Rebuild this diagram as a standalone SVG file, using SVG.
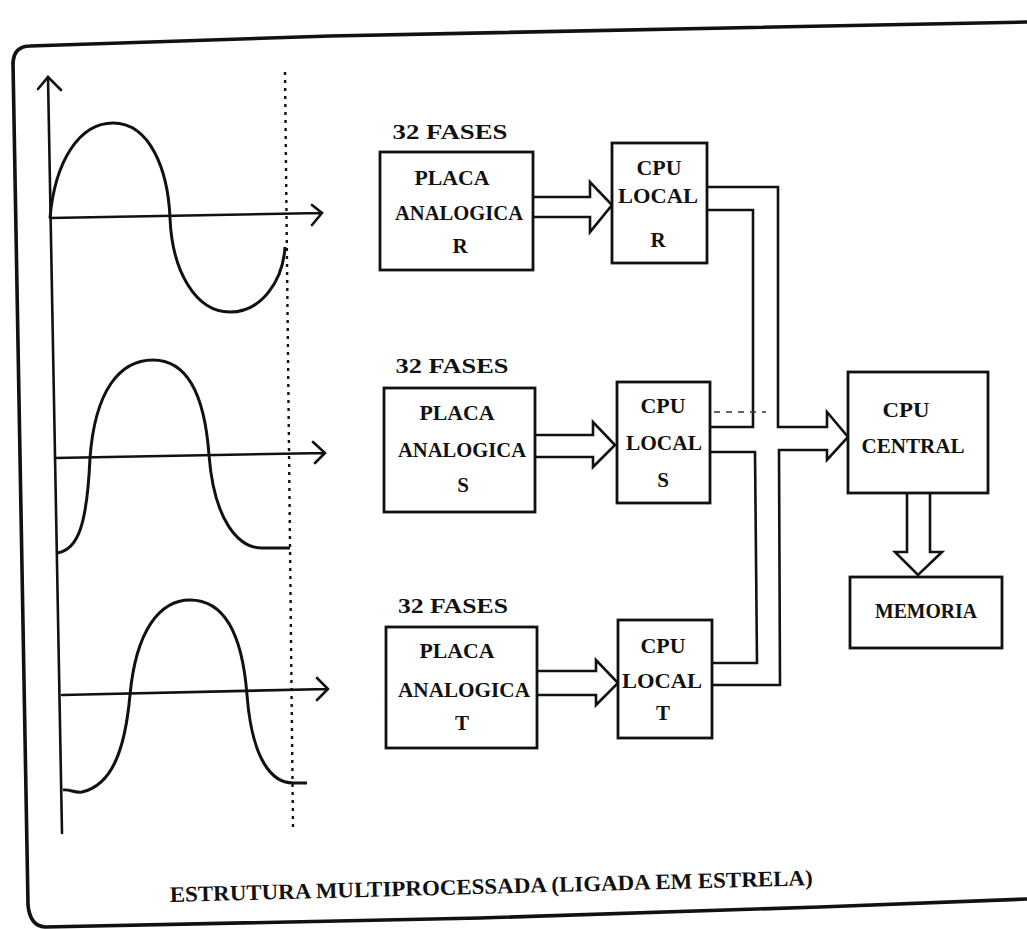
<svg xmlns="http://www.w3.org/2000/svg" width="1027" height="929" viewBox="0 0 1027 929">
<style>
.ln{fill:none;stroke:#111;stroke-width:2.6;stroke-linejoin:miter;stroke-linecap:round}
.box{fill:#fff;stroke:#111;stroke-width:2.8}
.wave{fill:none;stroke:#111;stroke-width:3}
.frame{fill:none;stroke:#111;stroke-width:3.6;stroke-linecap:round}
.dot{fill:none;stroke:#111;stroke-width:2.4;stroke-dasharray:3 5}
.t{font-family:"Liberation Serif","Times New Roman",serif;font-weight:bold;font-size:21px;fill:#111;text-anchor:middle}
.cap{font-family:"Liberation Serif","Times New Roman",serif;font-weight:bold;font-size:22px;fill:#111}
</style>
<rect width="1027" height="929" fill="#fff"/>
<g id="frame">
<path class="frame" d="M13,63 Q14,46 30,46 L330,36 L1027,22"/>
<path class="frame" d="M13,63 L28,905 Q30,926 45,927 L480,918 L820,907 L1027,899"/>
</g>
<g id="waveforms">
<path class="ln" d="M48,77 L62,833"/>
<path class="ln" d="M38,89 L48,77 L61,90"/>
<path class="dot" d="M285,72 L293,828"/>
<path class="ln" d="M50,218 L322,213 M312,205 L322,213 L312,225"/>
<path class="wave" d="M50,218 C55,160 80,123 113,123 C150,123 168,170 170,218 C172,270 195,312 230,312 C262,312 283,280 285,247"/>
<path class="ln" d="M55,458 L325,453 M313,442 L325,453 L315,463"/>
<path class="wave" d="M57,553 C78,550 87,525 90,458 C95,390 120,360 153,360 C190,360 205,400 209,455 C214,520 238,548 262,548 L290,548"/>
<path class="ln" d="M62,695 L328,689 M317,678 L328,689 L317,700"/>
<path class="wave" d="M63,790 C70,789 74,793 82,792 C112,785 125,750 130,695 C136,630 160,600 190,600 C222,600 242,630 247,695 C252,760 272,783 293,783 L307,783"/>
</g>
<g id="connectors">
<path class="ln" d="M533,197 L590,197 L590,182 L612,205 L590,232 L590,217 L533,217"/>
<path class="ln" d="M535,435 L593,435 L593,422 L615,445 L593,467 L593,457 L535,457"/>
<path class="ln" d="M537,671 L596,671 L596,660 L618,683 L596,705 L596,695 L537,695"/>
<path class="ln" d="M707,187 L778,187 L778,427 L827,427 L827,412 L848,437 L827,460 L827,450 L779,450 L780,685 L712,685"/>
<path class="ln" d="M707,210 L753,210 L753,427 L710,427"/>
<path class="ln" d="M710,452 L755,452 L757,663 L712,663"/>
<path class="ln" d="M907,493 L907,552 L895,552 L918,575 L942,552 L930,552 L930,493"/>
<path d="M714,412 L766,412" fill="none" stroke="#333" stroke-width="1.5" stroke-dasharray="6 6"/>
</g>
<g id="placa-r">
<text class="t" x="450" y="139" textLength="115" lengthAdjust="spacingAndGlyphs">32 FASES</text>
<rect class="box" x="380" y="152" width="153" height="118"/>
<text class="t" x="452" y="185" textLength="75" lengthAdjust="spacingAndGlyphs">PLACA</text>
<text class="t" x="459" y="220" textLength="128" lengthAdjust="spacingAndGlyphs">ANALOGICA</text>
<text class="t" x="460" y="253">R</text>
</g>
<g id="placa-s">
<text class="t" x="452" y="373" textLength="113" lengthAdjust="spacingAndGlyphs">32 FASES</text>
<rect class="box" x="384" y="388" width="151" height="124"/>
<text class="t" x="457" y="420" textLength="75" lengthAdjust="spacingAndGlyphs">PLACA</text>
<text class="t" x="462" y="457" textLength="128" lengthAdjust="spacingAndGlyphs">ANALOGICA</text>
<text class="t" x="463" y="492">S</text>
</g>
<g id="placa-t">
<text class="t" x="453" y="613" textLength="110" lengthAdjust="spacingAndGlyphs">32 FASES</text>
<rect class="box" x="386" y="627" width="151" height="121"/>
<text class="t" x="457" y="658" textLength="75" lengthAdjust="spacingAndGlyphs">PLACA</text>
<text class="t" x="464" y="697" textLength="132" lengthAdjust="spacingAndGlyphs">ANALOGICA</text>
<text class="t" x="462" y="730">T</text>
</g>
<g id="cpu-r">
<rect class="box" x="612" y="143" width="95" height="120"/>
<text class="t" x="659" y="175" textLength="45" lengthAdjust="spacingAndGlyphs">CPU</text>
<text class="t" x="658" y="203" textLength="80" lengthAdjust="spacingAndGlyphs">LOCAL</text>
<text class="t" x="658" y="247">R</text>
</g>
<g id="cpu-s">
<rect class="box" x="617" y="382" width="93" height="121"/>
<text class="t" x="663" y="413" textLength="45" lengthAdjust="spacingAndGlyphs">CPU</text>
<text class="t" x="664" y="450" textLength="76" lengthAdjust="spacingAndGlyphs">LOCAL</text>
<text class="t" x="663" y="487">S</text>
</g>
<g id="cpu-t">
<rect class="box" x="618" y="620" width="94" height="118"/>
<text class="t" x="663" y="653" textLength="45" lengthAdjust="spacingAndGlyphs">CPU</text>
<text class="t" x="662" y="688" textLength="80" lengthAdjust="spacingAndGlyphs">LOCAL</text>
<text class="t" x="663" y="720">T</text>
</g>
<g id="cpu-central">
<rect class="box" x="848" y="372" width="140" height="121"/>
<text class="t" x="906" y="417" textLength="47" lengthAdjust="spacingAndGlyphs">CPU</text>
<text class="t" x="913" y="453" textLength="103" lengthAdjust="spacingAndGlyphs">CENTRAL</text>
</g>
<g id="memoria">
<rect class="box" x="850" y="577" width="152" height="71"/>
<text class="t" x="926" y="618" textLength="102" lengthAdjust="spacingAndGlyphs">MEMORIA</text>
</g>
<g id="caption">
<text class="cap" x="170" y="902" transform="rotate(-1.5 170 902)" textLength="643" lengthAdjust="spacingAndGlyphs">ESTRUTURA MULTIPROCESSADA (LIGADA EM ESTRELA)</text>
</g>
</svg>
